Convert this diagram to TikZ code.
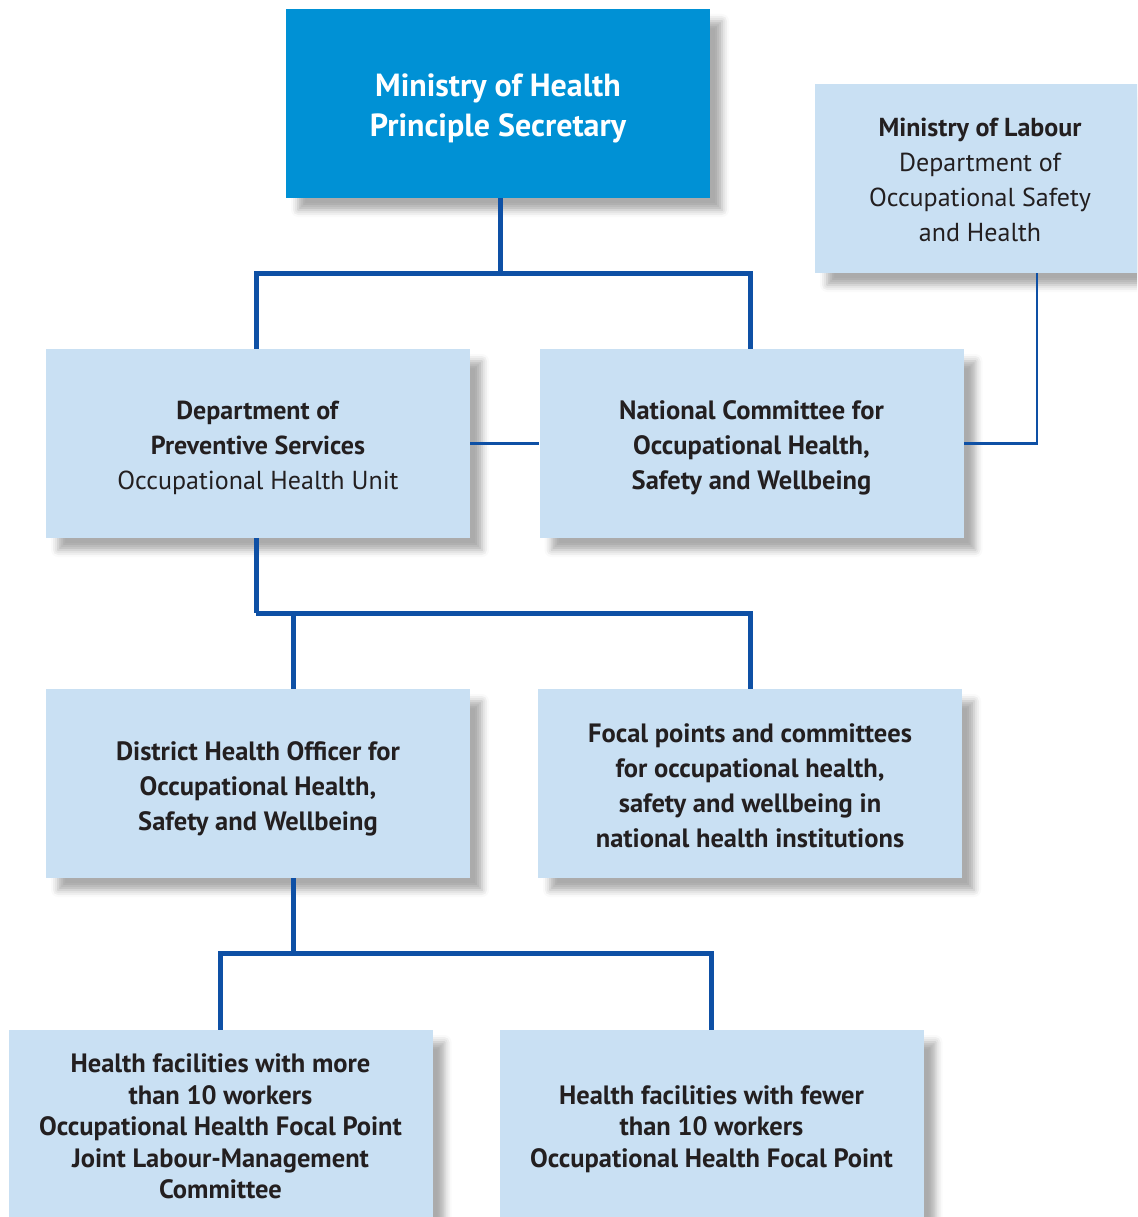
\documentclass[tikz,border=0pt]{standalone}
\usepackage{fontspec}
\setmainfont{PT Sans}
\usetikzlibrary{shadows.blur}
\definecolor{topblue}{RGB}{0,145,213}
\definecolor{boxblue}{RGB}{201,224,243}
\definecolor{linecol}{RGB}{14,80,165}
\definecolor{textdark}{RGB}{35,31,32}
\newcommand\boxtext[2]{\raisebox{-#1}[\height][\depth]{\begin{tabular}{@{}c@{}}#2\end{tabular}}}
\begin{document}
\begin{tikzpicture}[x=1pt,y=-1pt,
  shad/.style={blur shadow={shadow xshift=12pt, shadow yshift=-12pt, shadow blur radius=7pt, shadow opacity=33}},
  box/.style={shad, fill=boxblue, inner sep=0pt, text=textdark, align=center,
    minimum width=424pt, minimum height=189pt, font=\fontsize{26}{35}\selectfont},
  boldbox/.style={box, font=\fontsize{26.5}{35}\selectfont\bfseries},
  topbox/.style={box, fill=topblue, text=white, font=\fontsize{32}{40}\selectfont\bfseries},
  lowbox/.style={box, minimum height=191pt, font=\fontsize{26.5}{31.5}\selectfont\bfseries},
  conn/.style={draw=linecol, line width=5pt},
  thinconn/.style={draw=linecol, line width=2.6pt}]
\useasboundingbox (0,0) rectangle (1137,1217);
\clip (0,0) rectangle (1137,1217);

\node[topbox] (top) at (498,103.5) {\boxtext{5pt}{Ministry of Health\\Principle Secretary}};
\node[box, minimum width=330pt] (lab) at (980,178.5) {\boxtext{4pt}{\textbf{Ministry of Labour}\\Department of\\Occupational Safety\\and Health}};
\node[box] (dps) at (258,443.5) {\boxtext{4pt}{\textbf{Department of}\\\textbf{Preventive Services}\\Occupational Health Unit}};
\node[boldbox] (nat) at (751.5,443.5) {\boxtext{4pt}{National Committee for\\Occupational Health,\\Safety and Wellbeing}};
\node[boldbox] (dist) at (258,783.5) {\boxtext{5pt}{District Health Officer for\\Occupational Health,\\Safety and Wellbeing}};
\node[boldbox] (focal) at (750,783.5) {\boxtext{4pt}{Focal points and committees\\for occupational health,\\safety and wellbeing in\\national health institutions}};
\node[lowbox] (bl) at (220.5,1125.5) {\boxtext{4pt}{Health facilities with more\\than 10 workers\\Occupational Health Focal Point\\Joint Labour-Management\\Committee}};
\node[lowbox] (br) at (711.5,1125.5) {\boxtext{4pt}{Health facilities with fewer\\than 10 workers\\Occupational Health Focal Point}};

\draw[conn] ([xshift=2pt]top.south) -- ++(0,75) coordinate (j1);
\draw[conn] ([xshift=-2pt]dps.north) |- (j1) -| ([xshift=-1.5pt]nat.north);
\draw[thinconn] (dps.east) -- (nat.west);
\draw[thinconn] ([xshift=57pt]lab.south) |- (nat.east);
\draw[conn] ([xshift=-2pt]dps.south) -- ++(0,75) coordinate (j2);
\draw[conn] (j2) -| (focal.north);
\draw[conn] ([xshift=35pt]dist.north) -- ([xshift=35pt]dist.north |- j2);
\draw[conn] ([xshift=35pt]dist.south) -- ++(0,75) coordinate (j3);
\draw[conn] (bl.north) |- (j3) -| (br.north);
\end{tikzpicture}
\end{document}
